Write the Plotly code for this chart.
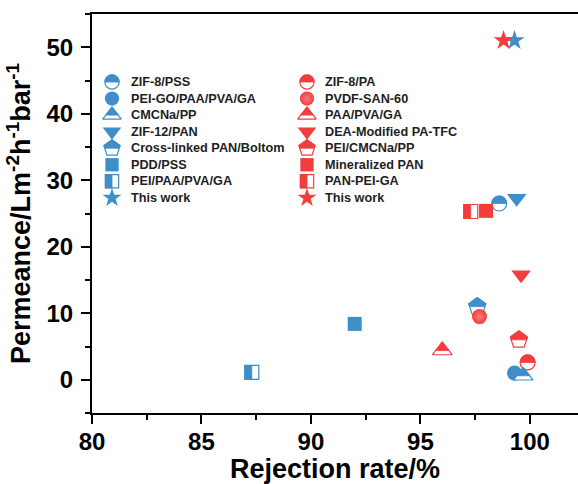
import numpy as np
import plotly.graph_objects as go

# ---------------- data ----------------
blue_names = ["ZIF-8/PSS", "PEI-GO/PAA/PVA/GA", "CMCNa/PP", "ZIF-12/PAN",
              "Cross-linked PAN/Boltom", "PDD/PSS", "PEI/PAA/PVA/GA", "This work"]
blue_x = [98.6, 99.3, 99.7, 99.4, 97.6, 92.0, 87.3, 99.3]
blue_y = [26.5, 1.0, 0.6, 27.3, 11.0, 8.4, 1.1, 51.0]

red_names = ["ZIF-8/PA", "PVDF-SAN-60", "PAA/PVA/GA", "DEA-Modified PA-TFC",
             "PEI/CMCNa/PP", "Mineralized PAN", "PAN-PEI-GA", "This work"]
red_x = [99.9, 97.7, 96.0, 99.6, 99.5, 98.0, 97.3, 98.8]
red_y = [2.6, 9.5, 4.4, 15.8, 6.0, 25.4, 25.3, 51.0]

marker_kinds = ["half-circle", "circle", "half-triangle", "triangle-down",
                "half-pentagon", "square", "half-square", "star"]

x_ticks = [80, 85, 90, 95, 100]
y_ticks = [0, 10, 20, 30, 40, 50]

# ---------------- style ----------------
BLUE = "#3d8ec9"
RED = "#f23d3d"
FONT = "Liberation Sans"

symbol_of = {"half-circle": "circle", "circle": "circle", "half-triangle": "triangle-up",
             "triangle-down": "triangle-down", "half-pentagon": "pentagon",
             "square": "square", "half-square": "square", "star": "star"}
size_of = {"half-circle": 15, "circle": 15, "half-triangle": 17, "triangle-down": 17,
           "half-pentagon": 18, "square": 14, "half-square": 14, "star": 15}


def half_path(kind, size):
    """filled part of a half-filled marker, pixel offsets (y up)"""
    r = size / 2.0
    if kind == "half-circle":
        t = np.linspace(0, np.pi, 30)
        pts = [(r * np.cos(a), r * np.sin(a)) for a in t]
    elif kind == "half-triangle":
        rt = r * 2 / np.sqrt(3)
        w = rt / 1.5
        pts = [(-w, 0), (0, r), (w, 0)]
    elif kind == "half-pentagon":
        pts = [(-0.851 * r, 0), (-0.951 * r, 0.309 * r), (0, r),
               (0.951 * r, 0.309 * r), (0.851 * r, 0)]
    elif kind == "half-square":
        pts = [(-r, -r), (0, -r), (0, r), (-r, r)]
    else:
        return None
    return "M" + " L".join(f"{px:.2f},{py:.2f}" for px, py in pts) + " Z"


fig = go.Figure()
shapes = []
annotations = []

# layout geometry of the figure (pixels)
W, H = 578, 484
ML, MR, MT, MB = 92, 0, 14, 71

# legend placement (figure pixels, used via overlay axes x2/y2)
leg_cols = [(112, 129), (307, 323)]
leg_y0, leg_dy = 82, 16.55


def add_series(names, xs, ys, color, col_idx):
    mx, tx = leg_cols[col_idx]
    for i, (nm, xv, yv, kind) in enumerate(zip(names, xs, ys, marker_kinds)):
        half = kind.startswith("half")
        sz = size_of[kind]
        marker = dict(symbol=symbol_of[kind], size=sz,
                      color="white" if half else color,
                      line=dict(color=color, width=1.2 if half else 0))
        if kind == "circle" and color == RED:
            marker["gradient"] = dict(type="radial", color="#f87b7b")
        # data point
        fig.add_trace(go.Scatter(x=[xv], y=[yv], mode="markers", marker=marker,
                                 name=nm, showlegend=False))
        # legend marker
        ly = leg_y0 + i * leg_dy
        lsz = sz * 0.95
        lmarker = dict(marker)
        lmarker["size"] = lsz
        fig.add_trace(go.Scatter(x=[mx], y=[ly], mode="markers", marker=lmarker,
                                 xaxis="x2", yaxis="y2", showlegend=False,
                                 hoverinfo="skip"))
        annotations.append(dict(x=tx, y=ly, xref="x2", yref="y2", text=nm,
                                showarrow=False, xanchor="left", yanchor="middle",
                                font=dict(family=FONT, size=12.7, color="#1e1e1e",
                                          weight="bold")))
        if half:
            for (xr, yr, ax, ay, s) in [("x", "y", xv, yv, sz), ("x2", "y2", mx, ly, lsz)]:
                shapes.append(dict(type="path", xref=xr, yref=yr,
                                   xsizemode="pixel", ysizemode="pixel",
                                   xanchor=ax, yanchor=ay,
                                   path=half_path(kind, s),
                                   fillcolor=color, line=dict(color=color, width=0.8),
                                   layer="above"))


add_series(blue_names, blue_x, blue_y, BLUE, 0)
add_series(red_names, red_x, red_y, RED, 1)

axis_common = dict(showgrid=False, zeroline=False, showline=True, linecolor="black",
                   linewidth=2, ticks="outside", ticklen=9, tickwidth=2,
                   tickcolor="black",
                   tickfont=dict(family=FONT, size=24, color="black", weight="bold"),
                   automargin=False)

fig.update_layout(
    width=W, height=H,
    margin=dict(l=ML, r=MR, t=MT, b=MB),
    paper_bgcolor="white", plot_bgcolor="white",
    showlegend=False,
    xaxis=dict(range=[80, 102.2], tickvals=x_ticks, mirror=True, ticklabelstandoff=-3,
               minor=dict(dtick=2.5, tick0=80, ticks="outside", ticklen=5,
                          tickwidth=2, tickcolor="black"),
               title=dict(text="Rejection rate/%", standoff=12,
                          font=dict(family=FONT, size=27, color="black", weight="bold")),
               **axis_common),
    yaxis=dict(range=[-5, 55], tickvals=y_ticks, mirror=False, ticklabelstandoff=3,
               minor=dict(dtick=5, tick0=0, ticks="outside", ticklen=5,
                          tickwidth=2, tickcolor="black"),
               title=dict(text="Permeance/Lm<sup>-2</sup>h<sup>-1</sup>bar<sup>-1</sup>",
                          standoff=8,
                          font=dict(family=FONT, size=27, color="black", weight="bold")),
               **axis_common),
    xaxis2=dict(overlaying="x", range=[ML, W - MR], visible=False, anchor="y2"),
    yaxis2=dict(overlaying="y", range=[H - MB, MT], visible=False, anchor="x2"),
    shapes=shapes,
    annotations=annotations,
)

fig.write_html("out.html")
